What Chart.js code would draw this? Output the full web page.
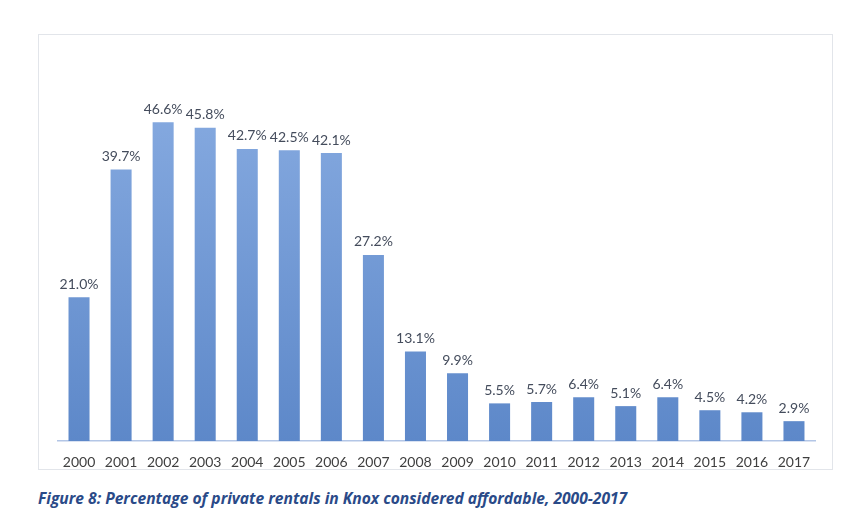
<!DOCTYPE html>
<html>
<head>
<meta charset="utf-8">
<script src="https://cdn.jsdelivr.net/npm/chart.js@4/dist/chart.umd.min.js"></script>
<style>
  html, body { margin:0; padding:0; background:#fff; }
  body { width:868px; height:520px; position:relative; overflow:hidden; font-family:Lato, "Open Sans", sans-serif; }
  #frame { position:absolute; left:38px; top:34px; width:795px; height:436px; border:1px solid #e2e5ea; box-sizing:border-box; }
  #wrap { position:absolute; left:0; top:0; width:793px; height:434px; }
  #caption { position:absolute; left:38px; top:487px; font-family:"Open Sans", sans-serif; font-weight:700; font-style:italic; font-size:15.6px; line-height:22px; color:#2a4a88; white-space:nowrap; }
</style>
</head>
<body>
<div id="frame"><div id="wrap"><canvas id="rentChart"></canvas></div></div>
<div id="caption">Figure 8: Percentage of private rentals in Knox considered affordable, 2000-2017</div>
<script>
// ── data ─────────────────────────────────────────────
const years   = ['2000','2001','2002','2003','2004','2005','2006','2007','2008','2009',
                 '2010','2011','2012','2013','2014','2015','2016','2017'];
const percent = [21.0, 39.7, 46.6, 45.8, 42.7, 42.5, 42.1, 27.2, 13.1, 9.9,
                 5.5, 5.7, 6.4, 5.1, 6.4, 4.5, 4.2, 2.9];

// value labels above each bar
const barLabels = {
  id: 'barLabels',
  afterDatasetsDraw(chart) {
    const ctx = chart.ctx;
    const meta = chart.getDatasetMeta(0);
    ctx.save();
    ctx.font = '14px Lato, "Open Sans", sans-serif';
    ctx.fillStyle = '#444c5c';
    ctx.textAlign = 'center';
    ctx.textBaseline = 'bottom';
    meta.data.forEach((bar, i) => {
      ctx.fillText(percent[i].toFixed(1) + '%', bar.x, bar.y - 6);
    });
    ctx.restore();
  }
};

function barFill(context) {
  const { chart } = context;
  const area = chart.chartArea;
  if (!area) return '#6f98d6';
  const g = chart.ctx.createLinearGradient(0, area.top, 0, area.bottom);
  g.addColorStop(0, '#86aae0');
  g.addColorStop(1, '#5d88c9');
  return g;
}

new Chart(document.getElementById('rentChart'), {
  type: 'bar',
  data: {
    labels: years,
    datasets: [{
      data: percent,
      backgroundColor: barFill,
      borderWidth: 0,
      categoryPercentage: 1,
      barPercentage: 0.5,
    }]
  },
  options: {
    responsive: true,
    maintainAspectRatio: false,
    animation: false,
    layout: { padding: { left: 19, right: 17, top: 64, bottom: 0 } },
    plugins: { legend: { display: false }, tooltip: { enabled: false } },
    scales: {
      x: {
        grid: { display: false, drawTicks: false },
        border: { display: true, color: '#b3c6e6', width: 1.5 },
        ticks: { color: '#3f3f3f', padding: 13, maxRotation: 0, font: { size: 14, family: 'Lato, "Open Sans", sans-serif' } },
        afterFit(scale) { scale.height = 28; }
      },
      y: {
        display: false,
        min: 0,
        max: 50
      }
    }
  },
  plugins: [barLabels]
});
</script>
</body>
</html>
